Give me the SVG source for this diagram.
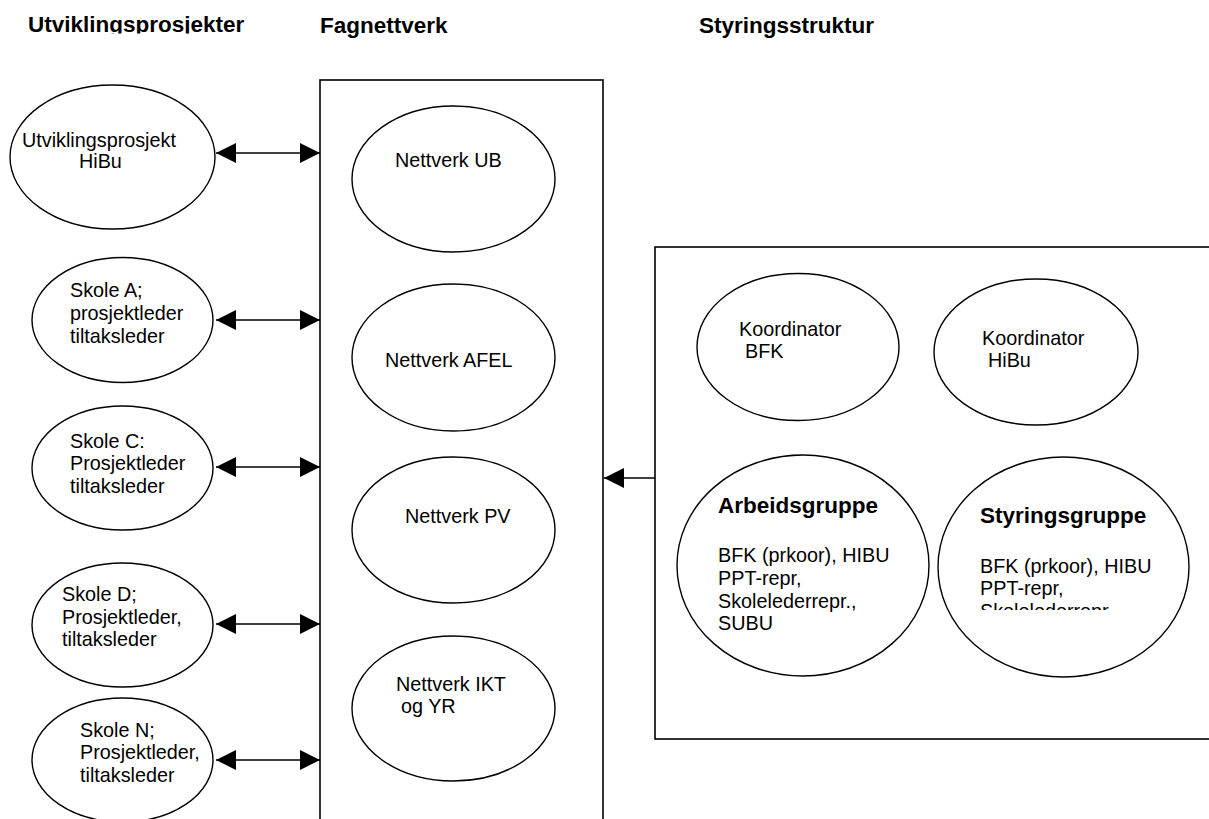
<svg xmlns="http://www.w3.org/2000/svg" width="1209" height="819" viewBox="0 0 1209 819">
<style>
  .t{font-family:"Liberation Sans",Arial,sans-serif;font-size:19.8px;fill:#000}
  .b{font-family:"Liberation Sans",Arial,sans-serif;font-size:22.5px;font-weight:bold;fill:#000}
  .e{fill:#fff;stroke:#000;stroke-width:1.4}
  .box{fill:#fff;stroke:#000;stroke-width:1.6}
  .ln{stroke:#000;stroke-width:1.4;fill:none}
</style>
<defs>
  <marker id="ah" markerWidth="20" markerHeight="20" refX="20" refY="10" orient="auto-start-reverse" markerUnits="userSpaceOnUse">
    <path d="M0,0 L20,10 L0,20 Z" fill="#000"/>
  </marker>
  <clipPath id="titleclip"><rect x="0" y="0" width="400" height="33.5"/></clipPath>
  <clipPath id="styclip"><rect x="940" y="450" width="240" height="160"/></clipPath>
</defs>
<rect width="1209" height="819" fill="#fff"/>

<g id="titles">
  <text class="b" x="28" y="32" clip-path="url(#titleclip)">Utviklingsprosjekter</text>
  <text class="b" x="320" y="33">Fagnettverk</text>
  <text class="b" x="699" y="33">Styringsstruktur</text>
</g>

<g id="fagnettverk-box"><rect class="box" x="320" y="80" width="283" height="760"/></g>
<g id="styring-box"><rect class="box" x="655" y="247" width="580" height="492"/></g>

<g id="connectors">
  <line class="ln" x1="216" y1="153" x2="320" y2="153" marker-start="url(#ah)" marker-end="url(#ah)"/>
  <line class="ln" x1="216" y1="320" x2="320" y2="320" marker-start="url(#ah)" marker-end="url(#ah)"/>
  <line class="ln" x1="216" y1="467" x2="320" y2="467" marker-start="url(#ah)" marker-end="url(#ah)"/>
  <line class="ln" x1="216" y1="624" x2="320" y2="624" marker-start="url(#ah)" marker-end="url(#ah)"/>
  <line class="ln" x1="216" y1="760" x2="320" y2="760" marker-start="url(#ah)" marker-end="url(#ah)"/>
  <line class="ln" x1="655" y1="478" x2="604" y2="478" marker-end="url(#ah)"/>
</g>

<g id="utv-hibu"><ellipse class="e" cx="112.5" cy="157" rx="102.5" ry="72"/>
  <text class="t" x="22" y="147">Utviklingsprosjekt</text><text class="t" x="79" y="168">HiBu</text></g>
<g id="skole-a"><ellipse class="e" cx="122.5" cy="320" rx="90.5" ry="62.5"/>
  <text class="t" x="70" y="297">Skole A;</text><text class="t" x="70" y="320">prosjektleder</text><text class="t" x="70" y="343">tiltaksleder</text></g>
<g id="skole-c"><ellipse class="e" cx="122.5" cy="468" rx="90.5" ry="62"/>
  <text class="t" x="70" y="448">Skole C:</text><text class="t" x="70" y="470">Prosjektleder</text><text class="t" x="70" y="493">tiltaksleder</text></g>
<g id="skole-d"><ellipse class="e" cx="122.5" cy="625" rx="90.5" ry="62"/>
  <text class="t" x="62" y="601">Skole D;</text><text class="t" x="62" y="624">Prosjektleder,</text><text class="t" x="62" y="646">tiltaksleder</text></g>
<g id="skole-n"><ellipse class="e" cx="122.5" cy="760" rx="90.5" ry="62"/>
  <text class="t" x="80" y="737">Skole N;</text><text class="t" x="80" y="759">Prosjektleder,</text><text class="t" x="80" y="782">tiltaksleder</text></g>

<g id="nettverk-ub"><ellipse class="e" cx="453.5" cy="179" rx="101.5" ry="73"/>
  <text class="t" x="395" y="167">Nettverk UB</text></g>
<g id="nettverk-afel"><ellipse class="e" cx="453.5" cy="357.5" rx="101.5" ry="73.5"/>
  <text class="t" x="385" y="367">Nettverk AFEL</text></g>
<g id="nettverk-pv"><ellipse class="e" cx="453.5" cy="530" rx="101.5" ry="73"/>
  <text class="t" x="405" y="523">Nettverk PV</text></g>
<g id="nettverk-ikt"><ellipse class="e" cx="453.5" cy="708.5" rx="101.5" ry="72.5"/>
  <text class="t" x="396" y="691">Nettverk IKT</text><text class="t" x="401" y="713">og YR</text></g>

<g id="koord-bfk"><ellipse class="e" cx="798" cy="347" rx="101" ry="73.5"/>
  <text class="t" x="739" y="336">Koordinator</text><text class="t" x="745" y="358">BFK</text></g>
<g id="koord-hibu"><ellipse class="e" cx="1036" cy="352" rx="102" ry="73"/>
  <text class="t" x="982" y="345">Koordinator</text><text class="t" x="988" y="367">HiBu</text></g>
<g id="arbeidsgruppe"><ellipse class="e" cx="803" cy="565.5" rx="126" ry="110.5"/>
  <text class="b" x="718" y="513">Arbeidsgruppe</text>
  <text class="t" x="718" y="562">BFK (prkoor), HIBU</text><text class="t" x="718" y="585">PPT-repr,</text>
  <text class="t" x="718" y="608">Skolelederrepr.,</text><text class="t" x="718" y="630">SUBU</text></g>
<g id="styringsgruppe"><ellipse class="e" cx="1063.5" cy="567" rx="125.5" ry="110"/>
  <text class="b" x="980" y="523">Styringsgruppe</text>
  <text class="t" x="980" y="573">BFK (prkoor), HIBU</text><text class="t" x="980" y="595">PPT-repr,</text>
  <text class="t" x="980" y="618" clip-path="url(#styclip)">Skolelederrepr.,</text></g>
</svg>
